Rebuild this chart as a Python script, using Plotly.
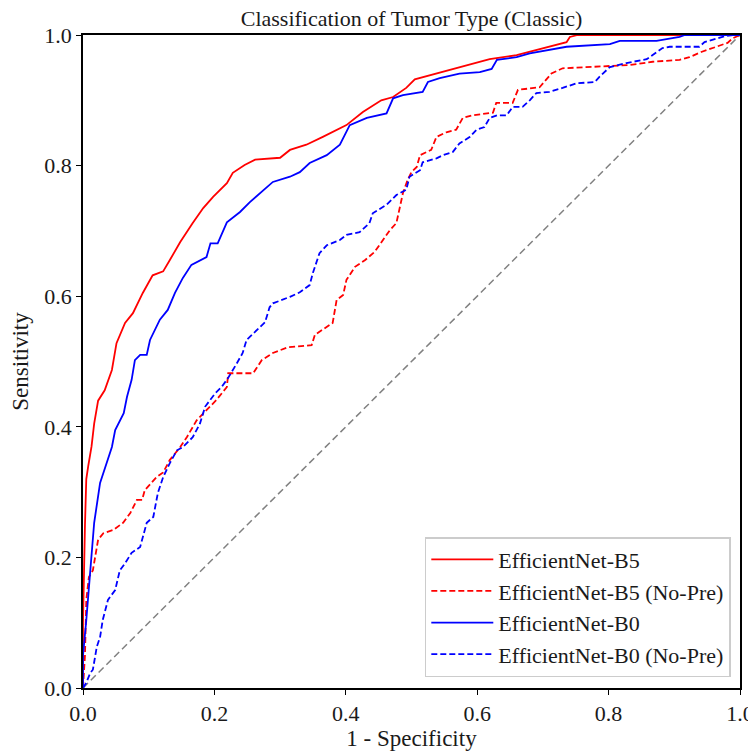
import plotly.graph_objects as go

# ---- data ----
b5_fpr = [0, 0.0, 0.003, 0.005, 0.008, 0.013, 0.017, 0.023, 0.033, 0.044, 0.051, 0.064, 0.076, 0.091,
          0.106, 0.122, 0.132, 0.148, 0.167, 0.183, 0.198, 0.219, 0.228, 0.246, 0.262, 0.30, 0.315,
          0.34, 0.365, 0.401, 0.426, 0.454, 0.472, 0.492, 0.505, 0.538, 0.573, 0.619, 0.66, 0.695,
          0.715, 0.736, 0.741, 0.753, 1.0]
b5_tpr = [0, 0.10, 0.25, 0.32, 0.34, 0.37, 0.405, 0.44, 0.456, 0.487, 0.528, 0.559, 0.574, 0.605,
          0.632, 0.638, 0.655, 0.683, 0.712, 0.735, 0.752, 0.773, 0.789, 0.801, 0.809, 0.812, 0.824,
          0.832, 0.844, 0.862, 0.882, 0.900, 0.905, 0.919, 0.932, 0.941, 0.951, 0.963, 0.969, 0.978,
          0.983, 0.989, 0.997, 1.0, 1.0]

b5np_fpr = [0, 0.003, 0.005, 0.009, 0.015, 0.02, 0.023, 0.031, 0.046, 0.061, 0.072, 0.082, 0.09, 0.094,
            0.112, 0.122, 0.132, 0.148, 0.158, 0.173, 0.188, 0.203, 0.219, 0.221, 0.259, 0.272, 0.289,
            0.312, 0.348, 0.353, 0.38, 0.386, 0.396, 0.401, 0.414, 0.429, 0.444, 0.456, 0.467, 0.477,
            0.482, 0.487, 0.494, 0.5, 0.508, 0.513, 0.53, 0.538, 0.553, 0.568, 0.578, 0.593, 0.624,
            0.629, 0.654, 0.662, 0.695, 0.713, 0.73, 0.766, 0.832, 0.867, 0.908, 0.923, 0.941, 0.964,
            0.981, 0.989, 1.0]
b5np_tpr = [0, 0.05, 0.135, 0.17, 0.18, 0.207, 0.227, 0.237, 0.242, 0.253, 0.268, 0.288, 0.288, 0.303,
            0.323, 0.33, 0.349, 0.369, 0.384, 0.41, 0.426, 0.441, 0.461, 0.482, 0.482, 0.502, 0.513,
            0.522, 0.525, 0.541, 0.559, 0.594, 0.602, 0.625, 0.645, 0.655, 0.668, 0.686, 0.701, 0.712,
            0.737, 0.758, 0.778, 0.79, 0.798, 0.816, 0.824, 0.844, 0.851, 0.855, 0.873, 0.877, 0.881,
            0.896, 0.896, 0.916, 0.92, 0.941, 0.949, 0.951, 0.954, 0.959, 0.962, 0.966, 0.974, 0.982,
            0.988, 0.995, 1.0]

b0_fpr = [0, 0.0, 0.005, 0.011, 0.017, 0.026, 0.036, 0.044, 0.049, 0.056, 0.062, 0.067, 0.074, 0.079,
          0.087, 0.097, 0.102, 0.117, 0.129, 0.14, 0.152, 0.165, 0.188, 0.194, 0.205, 0.219, 0.239,
          0.254, 0.272, 0.289, 0.315, 0.33, 0.345, 0.371, 0.391, 0.403, 0.406, 0.432, 0.462, 0.472,
          0.487, 0.517, 0.525, 0.543, 0.573, 0.604, 0.622, 0.63, 0.66, 0.68, 0.707, 0.736, 0.802,
          0.817, 0.873, 0.908, 0.916, 1.0]
b0_tpr = [0, 0.05, 0.104, 0.176, 0.253, 0.314, 0.344, 0.369, 0.395, 0.408, 0.421, 0.446, 0.472, 0.502,
          0.51, 0.51, 0.533, 0.564, 0.579, 0.605, 0.628, 0.648, 0.66, 0.681, 0.681, 0.713, 0.729,
          0.744, 0.76, 0.775, 0.783, 0.79, 0.804, 0.816, 0.832, 0.855, 0.862, 0.873, 0.88, 0.903,
          0.908, 0.913, 0.928, 0.934, 0.941, 0.943, 0.948, 0.962, 0.966, 0.972, 0.977, 0.982, 0.986,
          0.991, 0.991, 0.997, 1.0, 1.0]

b0np_fpr = [0, 0.005, 0.011, 0.015, 0.021, 0.026, 0.03, 0.035, 0.038, 0.049, 0.056, 0.064, 0.074, 0.087,
            0.097, 0.107, 0.114, 0.122, 0.132, 0.143, 0.152, 0.167, 0.178, 0.186, 0.201, 0.211, 0.221,
            0.234, 0.243, 0.249, 0.265, 0.277, 0.284, 0.289, 0.315, 0.33, 0.345, 0.35, 0.36, 0.371,
            0.391, 0.401, 0.421, 0.436, 0.441, 0.462, 0.477, 0.492, 0.497, 0.513, 0.517, 0.538, 0.548,
            0.563, 0.573, 0.589, 0.599, 0.611, 0.619, 0.63, 0.645, 0.654, 0.669, 0.68, 0.69, 0.71,
            0.73, 0.751, 0.779, 0.786, 0.802, 0.827, 0.858, 0.867, 0.882, 0.893, 0.938, 0.946, 0.964,
            0.976, 0.989, 1.0]
b0np_tpr = [0, 0.008, 0.023, 0.028, 0.063, 0.078, 0.104, 0.124, 0.135, 0.15, 0.18, 0.191, 0.207, 0.216,
            0.253, 0.262, 0.299, 0.323, 0.344, 0.364, 0.369, 0.384, 0.405, 0.431, 0.451, 0.461, 0.475,
            0.497, 0.513, 0.533, 0.548, 0.56, 0.583, 0.589, 0.599, 0.606, 0.617, 0.636, 0.666, 0.678,
            0.686, 0.694, 0.698, 0.712, 0.727, 0.74, 0.755, 0.763, 0.783, 0.793, 0.805, 0.811, 0.816,
            0.821, 0.834, 0.844, 0.855, 0.859, 0.873, 0.877, 0.877, 0.89, 0.89, 0.9, 0.911, 0.913,
            0.919, 0.926, 0.928, 0.936, 0.951, 0.957, 0.963, 0.969, 0.98, 0.982, 0.982, 0.989, 0.994,
            0.998, 1.0, 1.0]

chance = [0.0, 1.0]

tick_vals = [0.0, 0.2, 0.4, 0.6, 0.8, 1.0]
tick_text = ["0.0", "0.2", "0.4", "0.6", "0.8", "1.0"]

FONT = "Liberation Serif"
TXT = "#1a1a1a"

# page body adds an 8px margin, so the figure is sized to fit inside the window
W, H = 748, 743

fig = go.Figure()
fig.add_trace(go.Scatter(x=chance, y=chance, mode="lines", showlegend=False,
                         line=dict(color="gray", width=1.5, dash="7px,4px")))
fig.add_trace(go.Scatter(x=b5_fpr, y=b5_tpr, mode="lines", name="EfficientNet-B5",
                         line=dict(color="#ff0000", width=1.8)))
fig.add_trace(go.Scatter(x=b5np_fpr, y=b5np_tpr, mode="lines", name="EfficientNet-B5 (No-Pre)",
                         line=dict(color="#ff0000", width=1.8, dash="6px,3px")))
fig.add_trace(go.Scatter(x=b0_fpr, y=b0_tpr, mode="lines", name="EfficientNet-B0",
                         line=dict(color="#0000ff", width=1.8)))
fig.add_trace(go.Scatter(x=b0np_fpr, y=b0np_tpr, mode="lines", name="EfficientNet-B0 (No-Pre)",
                         line=dict(color="#0000ff", width=1.8, dash="6px,3px")))

axis_common = dict(range=[0, 1], tickvals=tick_vals, ticktext=tick_text, showgrid=False,
                   zeroline=False, showline=True, mirror=True, linecolor="black", linewidth=1.5,
                   ticks="outside", ticklen=5, tickwidth=1.2, tickcolor="black", automargin=False,
                   tickfont=dict(family=FONT, size=22, color=TXT))

fig.update_layout(
    width=W, height=H,
    margin=dict(l=75, r=16, t=27, b=63, autoexpand=False),
    plot_bgcolor="white", paper_bgcolor="white",
    font=dict(family=FONT, size=22, color=TXT),
    title=dict(text="Classification of Tumor Type (Classic)", x=0.5, xanchor="center",
               xref="paper", y=1.0 - 3 / H, yref="container", yanchor="top", automargin=False,
               pad=dict(t=0, b=0), font=dict(family=FONT, size=22, color=TXT)),
    xaxis=dict(axis_common, title=dict(text="1 - Specificity", standoff=3,
                                       font=dict(family=FONT, size=23, color=TXT))),
    yaxis=dict(axis_common, title=dict(text="Sensitivity", standoff=13,
                                       font=dict(family=FONT, size=23, color=TXT))),
    legend=dict(x=0.986, y=0.0168, xanchor="right", yanchor="bottom",
                bgcolor="rgba(255,255,255,0.85)", bordercolor="#cccccc", borderwidth=1.5,
                font=dict(family=FONT, size=22, color=TXT), tracegroupgap=0,
                itemwidth=62),
)

fig.write_html("out.html")
